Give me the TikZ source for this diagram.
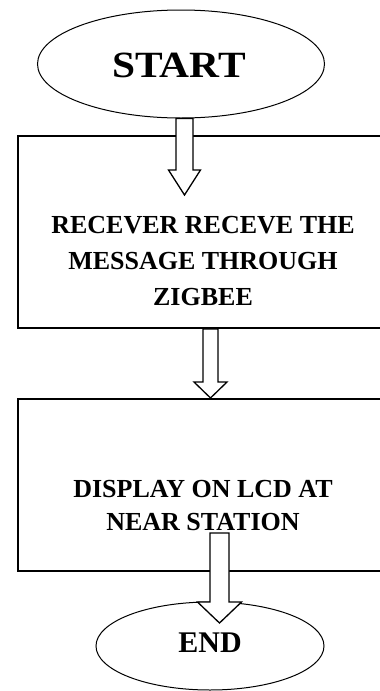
\documentclass[tikz,border=0pt]{standalone}
\usepackage{fontspec}
\setmainfont{Liberation Serif}
\usetikzlibrary{shapes.geometric,calc}

% hollow block arrow: from, tip, shaft half width, head half width, head length
\newcommand{\fatarrow}[5]{%
 \draw[fatarrow] let \p1=(#1), \p2=(#2) in
  (\x2-#3,\y1) -- (\x2-#3,\y2+#5) -- (\x2-#4,\y2+#5) -- (\x2,\y2)
  -- (\x2+#4,\y2+#5) -- (\x2+#3,\y2+#5) -- (\x2+#3,\y1) -- cycle;}

\tikzset{
 terminal/.style={ellipse, draw, line width=1pt, inner sep=0pt},
 stepbox/.style={rectangle, draw, line width=2pt, anchor=north west},
 fatarrow/.style={draw, line width=1.3pt, fill=white, line join=miter},
 caption/.style={font=\bfseries\fontsize{26}{36}\selectfont, align=center, inner sep=0pt}
}

\begin{document}
\begin{tikzpicture}[x=1pt, y=-1pt]

 \useasboundingbox (0,0) rectangle (380,691);
 \clip (0,0) rectangle (380,691);

 % process boxes, open to the right edge
 \node[stepbox, minimum width=370pt, minimum height=192pt] (recv) at (17,135) {};
 \node[stepbox, minimum width=370pt, minimum height=172pt] (disp) at (17,398) {};

 % start and end ellipses
 \node[terminal, minimum width=287pt, minimum height=108pt] (start) at (181,64) {};
 \node[terminal, minimum width=228pt, minimum height=88pt] (stop) at (210,646) {};

 % tips of the block arrows
 \coordinate (tip1) at (184.5,195);
 \coordinate (tip2) at (210.5,398);
 \coordinate (tail3) at (219.5,533);
 \coordinate (tip3) at (219.5,623);

 \fatarrow{start.south}{tip1}{8.5pt}{16pt}{25pt}
 \fatarrow{recv.south}{tip2}{7.5pt}{16.5pt}{16pt}
 \fatarrow{tail3}{tip3}{9.5pt}{22pt}{21pt}

 % texts on top
 \node[caption, font=\bfseries\fontsize{37}{40}\selectfont] (starttxt) at (179,65) {\scalebox{1.12}[1]{START}};
 \node[caption] (recvtxt) at (203,261) {RECEVER RECEVE THE\\MESSAGE THROUGH\\ZIGBEE};
 \node[caption, font=\bfseries\fontsize{26}{33}\selectfont] (disptxt) at (203,506) {DISPLAY ON LCD AT\\NEAR STATION};
 \node[caption, font=\bfseries\fontsize{30}{32}\selectfont] (stoptxt) at (210,643) {END};

\end{tikzpicture}
\end{document}
